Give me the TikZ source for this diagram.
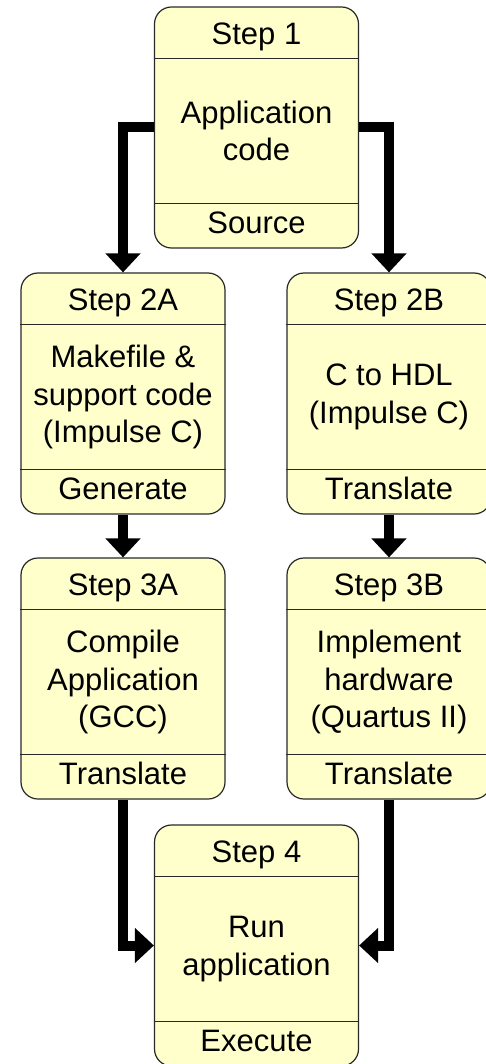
\documentclass[tikz,border=0pt]{standalone}
\usepackage{fontspec}
\setmainfont{Liberation Sans}
\usetikzlibrary{arrows.meta}
\definecolor{boxfill}{RGB}{255,255,204}
\definecolor{boxline}{RGB}{40,40,40}
\tikzset{
 stepbox/.style={draw=boxline, line width=1.2pt, fill=boxfill, rounded corners=17pt, minimum width=204pt, minimum height=241pt, inner sep=0pt},
 divider/.style={draw=boxline, line width=1pt},
 lbl/.style={font=\fontsize{31pt}{37.5pt}\selectfont, align=center, inner sep=0pt},
 flow/.style={line width=10pt, -{Triangle[width=34pt,length=19pt]}},
}
\newcommand\stepblock[6]{%
 \node[stepbox] (#1) at (#2, #3+120.5) {};
 \draw[divider] ([yshift=-52pt]#1.north west) -- ([yshift=-52pt]#1.north east);
 \draw[divider] ([yshift=45pt]#1.south west) -- ([yshift=45pt]#1.south east);
 \node[lbl, anchor=base] (#1h) at ([yshift=-38pt]#1.north) {#4};
 \node[lbl] (#1b) at ([yshift=-3.5pt]#1.center) {#5};
 \node[lbl, anchor=base] (#1f) at ([yshift=15pt]#1.south) {#6};
}
\begin{document}
\begin{tikzpicture}[x=1pt, y=-1pt]
\useasboundingbox (0,0) rectangle (486,1064);
\stepblock{s1}{256.5}{7}{Step 1}{Application\\code}{Source}
\stepblock{s2a}{123}{273}{Step 2A}{Makefile \&\\support code\\(Impulse C)}{Generate}
\stepblock{s2b}{389}{273}{Step 2B}{C to HDL\\(Impulse C)}{Translate}
\stepblock{s3a}{123}{558}{Step 3A}{Compile\\Application\\(GCC)}{Translate}
\stepblock{s3b}{389}{558}{Step 3B}{Implement\\hardware\\(Quartus II)}{Translate}
\stepblock{s4}{256.5}{825}{Step 4}{Run\\application}{Execute}
\draw[flow] (s1.west) -| (s2a.north);
\draw[flow] (s1.east) -| (s2b.north);
\draw[flow] (s2a.south) -- (s3a.north);
\draw[flow] (s2b.south) -- (s3b.north);
\draw[flow] (s3a.south) |- (s4.west);
\draw[flow] (s3b.south) |- (s4.east);
\end{tikzpicture}
\end{document}
